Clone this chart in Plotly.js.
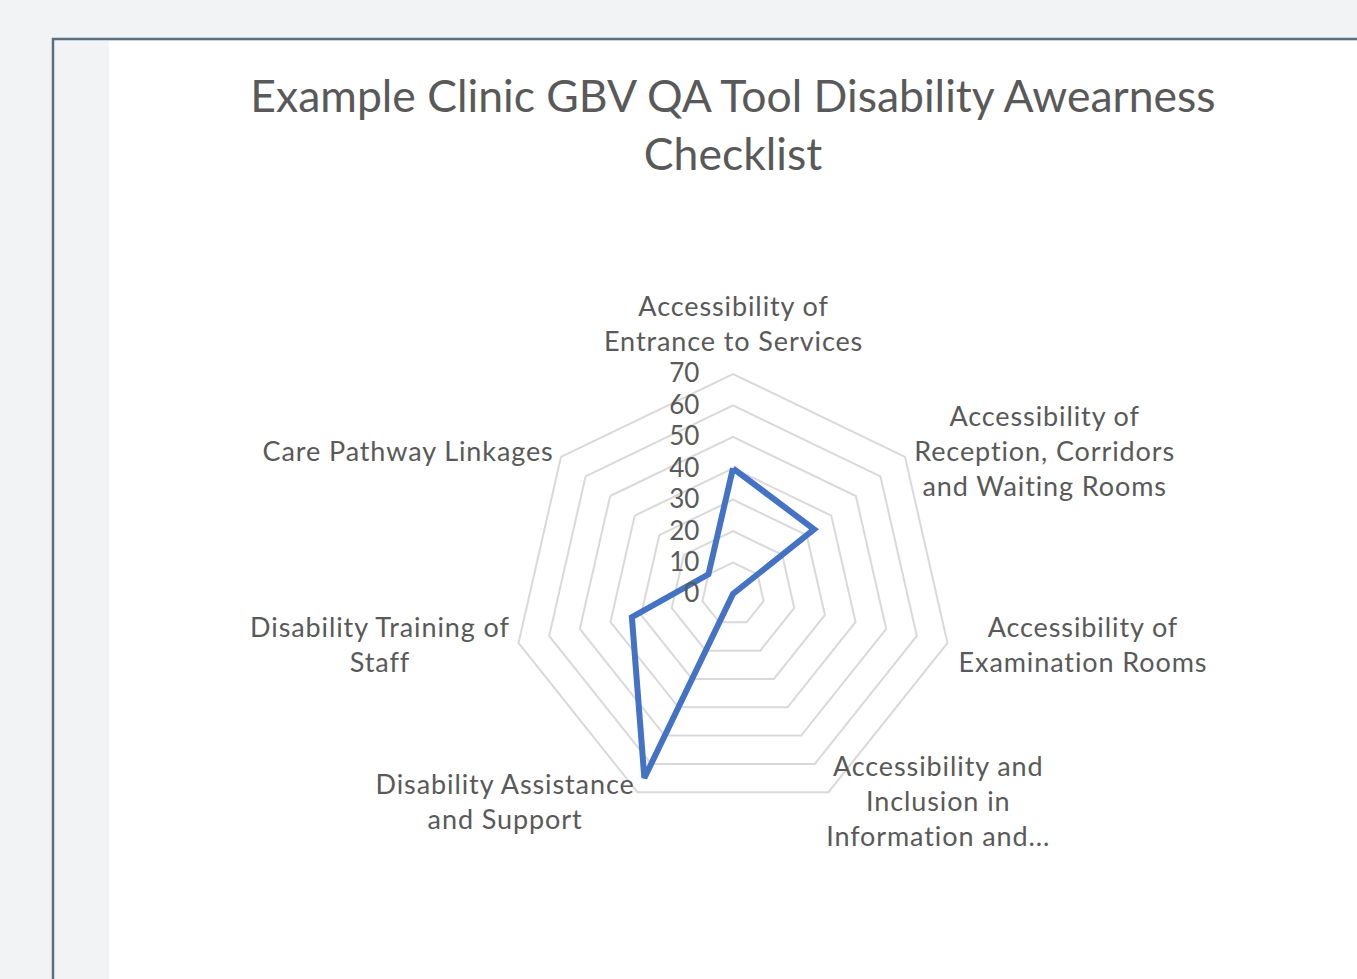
<!DOCTYPE html>
<html>
<head>
<meta charset="utf-8">
<script src="https://cdn.plot.ly/plotly-3.0.1.min.js"></script>
<style>
  html, body { margin: 0; padding: 0; background: #f2f3f5; }
  #chart { width: 1357px; height: 979px; }
  #chart .annotation-text { letter-spacing: 0.9px; }
</style>
</head>
<body>
<div id="chart"></div>
<script>
// ---- data ----
var categories = [
  "Accessibility of Entrance to Services",
  "Accessibility of Reception, Corridors and Waiting Rooms",
  "Accessibility of Examination Rooms",
  "Accessibility and Inclusion in Information and...",
  "Disability Assistance and Support",
  "Disability Training of Staff",
  "Care Pathway Linkages"
];
var tickLabels = [
  "Accessibility of<br>Entrance to Services",
  "Accessibility of<br>Reception, Corridors<br>and Waiting Rooms",
  "Accessibility of<br>Examination Rooms",
  "Accessibility and<br>Inclusion in<br>Information and...",
  "Disability Assistance<br>and Support",
  "Disability Training of<br>Staff",
  "Care Pathway Linkages"
];
var scores = [40, 33, 0, 0, 65, 33, 10];
var radialTicks = [0, 10, 20, 30, 40, 50, 60, 70];
var chartTitle = "Example Clinic GBV QA Tool Disability Awearness<br>Checklist";

// ---- layout helpers (pixel -> paper) ----
var W = 1357, H = 979;
function px(x) { return x / W; }
function py(y) { return 1 - y / H; }

// label centres (pixels) for the wrapped category labels
var labelPos = [
  [733, 323], [1044, 450], [1083, 644], [938, 800],
  [505, 801], [380, 644], [408, 450]
];

var rClosed = scores.concat([scores[0]]);
var thetaClosed = categories.concat([categories[0]]);

var trace = {
  type: 'scatterpolar',
  r: rClosed,
  theta: thetaClosed,
  mode: 'lines',
  line: { color: '#4472C4', width: 6 },
  hoverinfo: 'skip',
  showlegend: false
};

var cx = 733, cy = 594, R = 220;

var annotations = tickLabels.map(function (t, i) {
  return {
    text: t, showarrow: false, xref: 'paper', yref: 'paper',
    x: px(labelPos[i][0]), y: py(labelPos[i][1]),
    xanchor: 'center', yanchor: 'middle', align: 'center',
    font: { family: 'Lato, sans-serif', size: 27, color: '#595959' }
  };
});

var layout = {
  width: W, height: H,
  margin: { l: 0, r: 0, t: 0, b: 0 },
  paper_bgcolor: '#f2f3f5',
  font: { family: 'Lato, "Open Sans", sans-serif', color: '#595959' },
  title: {
    text: chartTitle,
    font: { family: 'Lato, sans-serif', size: 44.5, color: '#595959' },
    x: px(733), xanchor: 'center', xref: 'paper',
    y: py(112), yanchor: 'middle', yref: 'paper'
  },
  annotations: annotations,
  shapes: [
    { type: 'rect', xref: 'paper', yref: 'paper', layer: 'below',
      x0: px(53), x1: px(1420), y0: py(39), y1: py(1100),
      line: { color: '#5a7080', width: 2.5 }, fillcolor: '#f2f3f5' },
    { type: 'rect', xref: 'paper', yref: 'paper', layer: 'below',
      x0: px(109), x1: px(1420), y0: py(41), y1: py(1100),
      line: { width: 0 }, fillcolor: '#ffffff' }
  ],
  polar: {
    domain: { x: [px(cx - R), px(cx + R)], y: [py(cy + R), py(cy - R)] },
    bgcolor: 'rgba(0,0,0,0)',
    gridshape: 'linear',
    angularaxis: {
      direction: 'clockwise',
      rotation: 90,
      showgrid: false,
      showline: true,
      linecolor: '#d9d9d9',
      linewidth: 2,
      ticks: '',
      showticklabels: false
    },
    radialaxis: {
      range: [0, 70],
      tickmode: 'array',
      tickvals: radialTicks,
      angle: 90,
      side: 'counterclockwise',
      tickangle: 90,
      showline: false,
      showgrid: true,
      gridcolor: '#d9d9d9',
      gridwidth: 2,
      ticks: 'outside',
      ticklen: 24,
      tickcolor: 'rgba(0,0,0,0)',
      tickfont: { family: 'Lato, sans-serif', size: 26, color: '#595959' }
    }
  }
};

Plotly.newPlot('chart', [trace], layout, { displayModeBar: false, staticPlot: true });
</script>
</body>
</html>
